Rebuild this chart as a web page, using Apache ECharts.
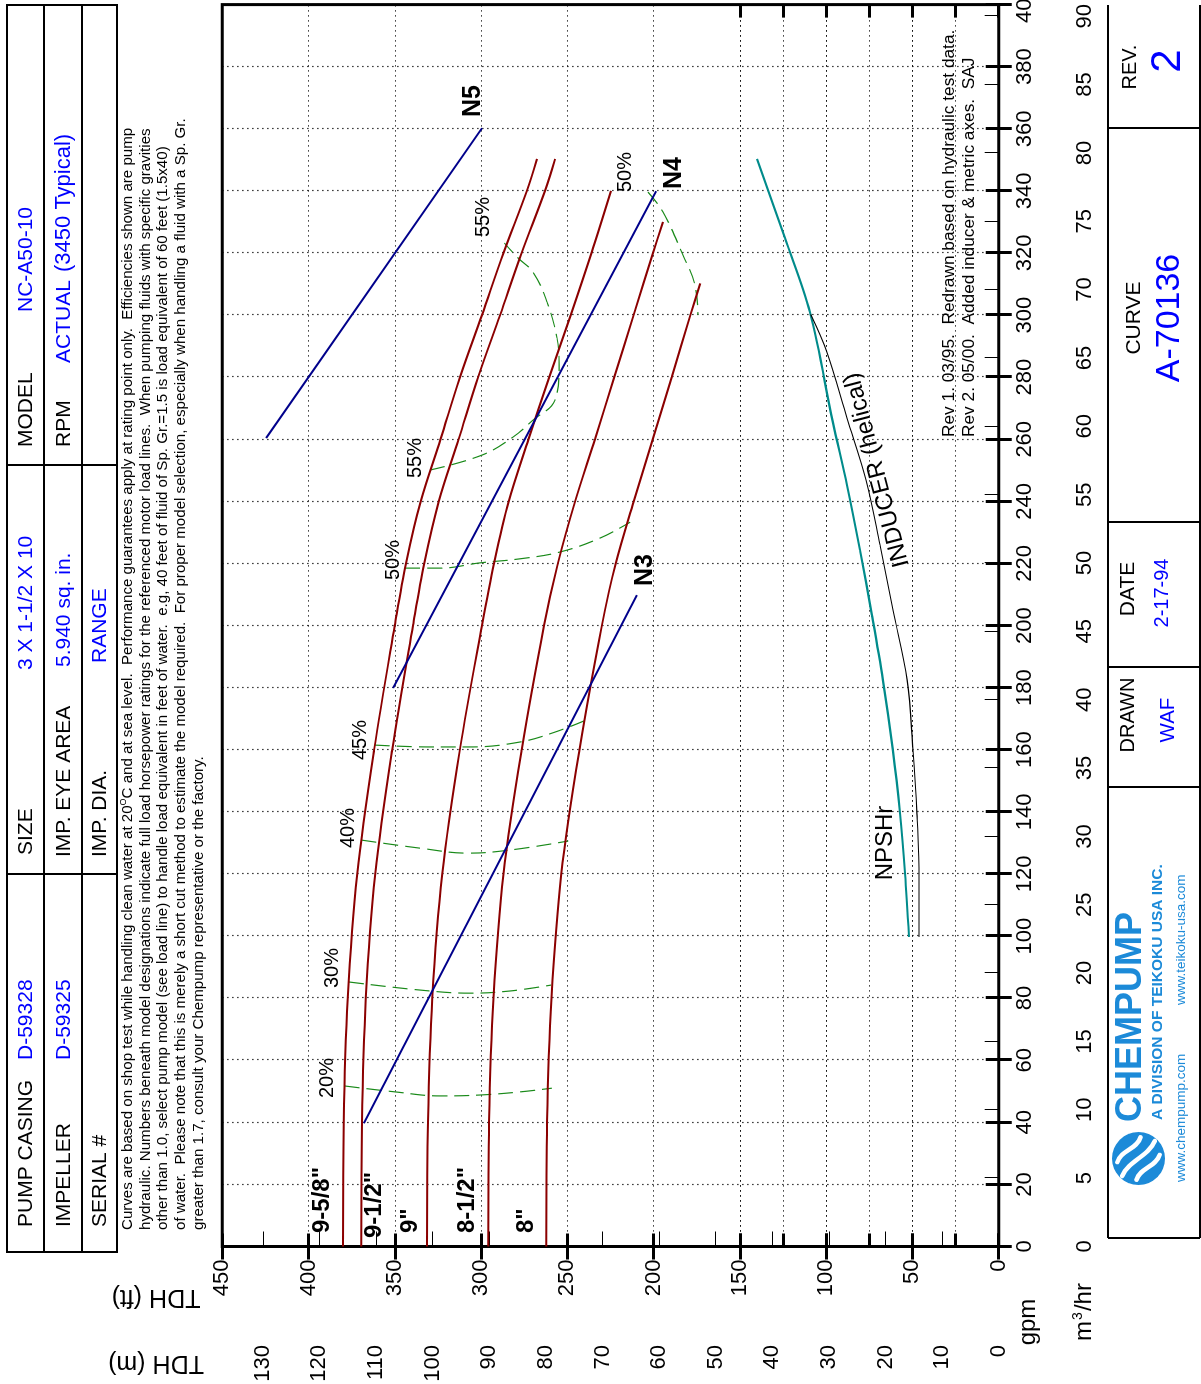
<!DOCTYPE html>
<html>
<head>
<meta charset="utf-8">
<title>NC-A50-10 Pump Curve</title>
<script src="https://cdn.jsdelivr.net/npm/echarts@6/dist/echarts.min.js"></script>
<style>
  html, body { margin: 0; padding: 0; background: #fff; overflow: hidden; }
  #page { position: absolute; left: 0; top: 0; width: 1201px; height: 1384px; overflow: hidden; background: #fff; }
  /* the sheet is laid out landscape and turned a quarter turn */
  #chart { position: absolute; left: 0; top: 0; width: 1384px; height: 1201px;
           transform-origin: 0 0; transform: translate(0, 1384px) rotate(-90deg); }
</style>
</head>
<body>
<div id="page"><div id="chart"></div></div>
<script>
// ---- head curves by impeller diameter: [gpm, TDH ft] ----
const imp9_5_8 = [[0,380],[40,379.6],[80,377.3],[120,371.8],[160,362],[200,350],[220,343.5],[240,335],[260,323.5],[280,312.2],[300,299.5],[320,287],[340,273.5],[350.3,267.6]];
const imp9_1_2 = [[0,369.5],[40,369.1],[80,366.8],[120,361.3],[160,351.5],[200,339.5],[220,333],[240,324.5],[260,313],[280,301.7],[300,289],[320,276.5],[340,263],[350.3,257.1]];
const imp9     = [[0,331.3],[40,330.8],[80,328.3],[120,322.5],[160,312.3],[200,299.5],[220,292.5],[240,284],[260,272.5],[280,260.5],[300,248],[320,236],[340,224.7]];
const imp8_1_2 = [[0,295.9],[40,295.4],[80,292.8],[120,287],[160,276.5],[200,263.5],[220,255.5],[240,245.5],[260,234],[280,222.8],[300,211.6],[320,200.4],[330,194.6]];
const imp8     = [[0,262.3],[40,261.8],[80,259.2],[120,253.5],[160,243],[200,230],[220,222],[240,211.5],[260,200.5],[280,189.5],[300,178.7],[310.2,173]];

// ---- motor load lines ----
const loadN3 = [[39.7,367.9],[209.8,209.7]];
const loadN4 = [[179.9,351],[339.9,198.5]];
const loadN5 = [[260.4,424.6],[360.2,299.5]];

// ---- efficiency contours ----
const eff20 = [[51.7,379],[49.8,349.8],[48.5,323.7],[48.8,300.5],[49.8,277.4],[51,259]];
const eff30 = [[85.2,376.6],[82.6,335.4],[81.6,306.4],[82.3,283.2],[84.2,259.5]];
const eff40 = [[130.9,369.3],[128.3,335.4],[126.7,307.6],[127.7,283.2],[130.6,249.5]];
const eff45 = [[161.5,361.6],[160.9,329.6],[160.9,306.4],[162.5,277.4],[165.7,257.1],[170.1,236.8]];
const eff50 = [[218.5,344],[218.5,323.8],[220.2,300.5],[221.5,277.4],[223.7,254.2],[228.2,231],[233.3,213.6]];
const eff55 = [[250.1,329.5],[254.9,299.5],[260.7,281.5],[266.2,269.9],[272.6,257.2],[283.9,254.8],[292.6,256],[304.2,261.8],[313.8,269.9],[318.4,278.6],[323.2,286.5]];
const eff50b = [[339.6,203.3],[333.2,194.6],[319.3,183],[309.8,176.1],[300.1,174.3]];

// ---- NPSH ----
const npshr = [[350.3,140.1],[324.8,123.9],[300.9,109.4],[265.5,96.1],[245.2,87.9],[224.3,80.4],[203.4,73.5],[182.5,67.1],[159.9,61.3],[139.6,57.2],[120.3,54.3],[99.7,52]];
const inducer = [[300.2,109],[288.2,99.7],[266.8,87.9],[246.9,76.9],[226,68.8],[205,61.3],[182.5,53.1],[159.9,49.7],[139.6,47.4],[120.3,46.2],[99.7,46.2]];

// ---- axis ranges / secondary-axis ticks ----
const gpmMax = 400, ftMax = 450;
const m3hrMax = gpmMax * 0.2271247;
const mMax = ftMax * 0.3048;
const m3hrTicks = [0,5,10,15,20,25,30,35,40,45,50,55,60,65,70,75,80,85,90];
const mTicks = [0,10,20,30,40,50,60,70,80,90,100,110,120,130];

const FONT = "'Liberation Sans', Arial, Helvetica, sans-serif";
const RED = '#8b0000', NAVY = '#00008b', GREEN = '#1a8a1a', TEAL = '#008b8b', BLUE = '#0000ff', LOGO = '#1c8ad8';

const G = { left: 137.5, top: 222.3, width: 1241.9, height: 776.4 };
const lowTop = G.top + G.height * (1 - 150 / ftMax);

const chart = echarts.init(document.getElementById('chart'), null, { renderer: 'canvas', width: 1384, height: 1201 });

const tickIn = (len, w) => ({ show: true, inside: true, length: len, lineStyle: { color: '#000', width: w } });
const dotted = { show: true, lineStyle: { color: '#000', width: 1.2, type: [1.2, 3.8] } };
const lbl = (margin) => ({ show: true, margin: margin, fontSize: 22, color: '#000', fontFamily: FONT });

function line(data, color, width, opts) {
  return Object.assign({
    type: 'line', data: data, xAxisIndex: 0, yAxisIndex: 0, showSymbol: false, symbol: 'none',
    silent: true, animation: false, smooth: false,
    lineStyle: { color: color, width: width }
  }, opts || {});
}
function effLine(data) {
  return line(data, GREEN, 1.2, { smooth: 0.4, lineStyle: { color: GREEN, width: 1.2, type: [15, 7] } });
}

// text helper for the landscape sheet
function txt(x, y, text, size, opts) {
  const o = opts || {};
  return {
    type: 'text', x: x, y: y, rotation: o.rotation || 0, silent: true, z: 10,
    style: {
      text: text, fill: o.color || '#000', fontSize: size, fontFamily: FONT,
      fontWeight: o.bold ? 'bold' : 'normal',
      align: o.align || 'left', verticalAlign: o.valign || 'middle',
      textAlign: o.align || 'left', textVerticalAlign: o.valign || 'middle',
      rich: o.rich
    }
  };
}
function hline(x1, x2, y, w) { return { type: 'line', silent: true, shape: { x1: x1, y1: y, x2: x2, y2: y }, style: { stroke: '#000', lineWidth: w } }; }
function vline(x, y1, y2, w) { return { type: 'line', silent: true, shape: { x1: x, y1: y1, x2: x, y2: y2 }, style: { stroke: '#000', lineWidth: w } }; }

// white wave strokes across the round company badge
function badgeWaves(cx, cy) {
  const u = [0.734, 0.679], p = [0.679, -0.734];
  const out = [];
  [[-13, 17], [0, 24], [13, 17]].forEach(([off, half]) => {
    const mx = cx + p[0] * off, my = cy + p[1] * off;
    const sx = mx - u[0] * half, sy = my - u[1] * half;
    const ex = mx + u[0] * half, ey = my + u[1] * half;
    const a = 6;
    out.push({ type: 'bezierCurve', silent: true, z: 11,
      shape: { x1: sx, y1: sy,
               cpx1: sx + u[0] * half * 0.66 + p[0] * a, cpy1: sy + u[1] * half * 0.66 + p[1] * a,
               cpx2: sx + u[0] * half * 1.34 - p[0] * a, cpy2: sy + u[1] * half * 1.34 - p[1] * a,
               x2: ex, y2: ey },
      style: { fill: 'none', stroke: '#fff', lineWidth: 4.5, lineCap: 'round' } });
  });
  return out;
}

const notes = [
  '{n|Curves are based on shop test while handling clean water at 20}{s|O}{n|C and at sea level.  Performance guarantees apply at rating point only.  Efficiencies shown are pump}',
  'hydraulic. Numbers beneath model designations indicate full load horsepower ratings for the referenced motor load lines.  When pumping fluids with specific gravities',
  'other than 1.0, select pump model (see load line) to handle load equivalent in feet of water.  e.g, 40 feet of fluid of Sp. Gr.=1.5 is load equivalent of 60 feet (1.5x40)',
  'of water.  Please note that this is merely a short cut method to estimate the model required.  For proper model selection, especially when handling a fluid with a Sp. Gr.',
  'greater than 1.7, consult your Chempump representative or the factory.'
];
const NOTE_SIZE = 15.1;
const noteRich = { n: { fontSize: NOTE_SIZE, fontFamily: FONT, fill: '#000', color: '#000' }, s: { fontSize: 9, fontFamily: FONT, fill: '#000', color: '#000', verticalAlign: 'top', padding: [0, 0, 8, 0] } };

const graphics = [];
// header table
graphics.push({ type: 'rect', silent: true, shape: { x: 132, y: 7, width: 1247, height: 110 }, style: { fill: 'none', stroke: '#000', lineWidth: 2 } });
graphics.push(hline(132, 1379, 44, 2), hline(132, 1379, 82, 2), vline(510, 7, 117, 2), vline(919, 7, 117, 2));
graphics.push(
  txt(157, 26, 'PUMP CASING', 21), txt(324, 26, 'D-59328', 21, { color: BLUE }),
  txt(529, 26, 'SIZE', 21), txt(714, 26, '3 X 1-1/2 X 10', 21, { color: BLUE }),
  txt(937, 26, 'MODEL', 21), txt(1072, 26, 'NC-A50-10', 21, { color: BLUE }),
  txt(157, 64, 'IMPELLER', 21), txt(324, 64, 'D-59325', 21, { color: BLUE }),
  txt(527, 64, 'IMP. EYE AREA', 21), txt(717, 64, '5.940 sq. in.', 21, { color: BLUE }),
  txt(937, 64, 'RPM', 21), txt(1021, 64, 'ACTUAL', 21, { color: BLUE }), txt(1112, 64, '(3450 Typical)', 22, { color: BLUE }),
  txt(157, 100, 'SERIAL #', 21),
  txt(527, 100, 'IMP. DIA.', 21), txt(721, 100, 'RANGE', 21, { color: BLUE })
);
// notes
const noteY = [128, 145.5, 163, 181, 199];
notes.forEach((t, i) => {
  if (i === 0) graphics.push(txt(154, noteY[i], t, NOTE_SIZE, { rich: noteRich }));
  else graphics.push(txt(154, noteY[i], t, NOTE_SIZE));
});
// axis titles
graphics.push(
  txt(87.5, 156, 'TDH (ft)', 25, { align: 'center', rotation: Math.PI / 2 }),
  txt(21.5, 156, 'TDH (m)', 25, { align: 'center', rotation: Math.PI / 2 }),
  txt(62, 1028, 'gpm', 24, { align: 'center' }),
  txt(72, 1084, '{a|m}{b|3}{a|/hr}', 24, { align: 'center', rich: {
    a: { fontSize: 24, fontFamily: FONT, fill: '#000', color: '#000' },
    b: { fontSize: 14, fontFamily: FONT, fill: '#000', color: '#000', verticalAlign: 'top', padding: [0, 1, 12, 1] } } })
);
// plot annotations
graphics.push(
  txt(151, 322, '9-5/8"', 24, { bold: true }), txt(146, 374, '9-1/2"', 24, { bold: true }),
  txt(151, 410, '9"', 24, { bold: true }), txt(151, 467, '8-1/2"', 24, { bold: true }),
  txt(151, 526, '8"', 24, { bold: true }),
  txt(306, 327, '20%', 20, { align: 'center' }), txt(416, 332, '30%', 20, { align: 'center' }),
  txt(556, 348, '40%', 20, { align: 'center' }), txt(644, 360, '45%', 20, { align: 'center' }),
  txt(824, 393, '50%', 20, { align: 'center' }), txt(926, 415, '55%', 20, { align: 'center' }),
  txt(1167, 483, '55%', 20, { align: 'center' }), txt(1212, 625, '50%', 20, { align: 'center' }),
  txt(1283, 473, 'N5', 25, { bold: true, align: 'center' }), txt(1211, 674, 'N4', 25, { bold: true, align: 'center' }),
  txt(814, 645, 'N3', 25, { bold: true, align: 'center' }),
  txt(541, 885, 'NPSHr', 24, { align: 'center' }),
  txt(914, 877, 'INDUCER (helical)', 24, { align: 'center', rotation: 0.256 }),
  txt(947, 949.5, 'Rev 1. 03/95.  Redrawn based on hydraulic test data.', 17.3),
  txt(947, 969, 'Rev 2. 05/00.  Added inducer & metric axes.  SAJ', 17.3)
);
// title block
graphics.push(
  hline(146, 1379, 1108, 2), hline(146, 1379, 1200, 2), vline(146, 1108, 1200, 2),
  vline(597, 1108, 1200, 2), vline(717, 1108, 1200, 2), vline(862, 1108, 1200, 2), vline(1256, 1108, 1200, 2),
  txt(1317, 1130, 'REV.', 20, { align: 'center' }), txt(1323, 1168, '2', 42, { align: 'center', color: BLUE }),
  txt(1066, 1134, 'CURVE', 21, { align: 'center' }), txt(1066, 1170, 'A-70136', 34, { align: 'center', color: BLUE }),
  txt(795, 1128, 'DATE', 21, { align: 'center' }), txt(791, 1162, '2-17-94', 20, { align: 'center', color: BLUE }),
  txt(669, 1128, 'DRAWN', 20, { align: 'center' }), txt(664, 1168, 'WAF', 20.5, { align: 'center', color: BLUE })
);
// company mark
graphics.push({ type: 'circle', silent: true, z: 10, shape: { cx: 225.5, cy: 1138.5, r: 26.5 }, style: { fill: LOGO } });
badgeWaves(225.5, 1138.5).forEach(w => graphics.push(w));
graphics.push(
  txt(262, 1131, 'CHEMPUMP', 36, { bold: true, color: LOGO }),
  txt(264, 1158, 'A DIVISION OF TEIKOKU USA INC.', 15.5, { bold: true, color: LOGO }),
  txt(202, 1181, 'www.chempump.com', 13.5, { color: LOGO }),
  txt(379, 1181, 'www.teikoku-usa.com', 13.5, { color: LOGO })
);

const option = {
  animation: false,
  backgroundColor: '#fff',
  grid: [
    { left: G.left, top: G.top, width: G.width, height: G.height, show: true, borderColor: '#000', borderWidth: 3,
      backgroundColor: 'transparent', containLabel: false, outerBoundsMode: 'none' },
    { left: G.left, top: lowTop, width: G.width, height: G.top + G.height - lowTop, show: false,
      containLabel: false, outerBoundsMode: 'none' }
  ],
  xAxis: [
    { gridIndex: 0, type: 'value', position: 'bottom', min: 0, max: gpmMax, interval: 20,
      axisLine: { show: false }, axisTick: tickIn(13, 3), axisLabel: lbl(15), splitLine: dotted },
    { gridIndex: 0, type: 'value', position: 'top', min: 0, max: gpmMax, interval: 20,
      axisLine: { show: false }, axisTick: tickIn(13, 3), axisLabel: { show: false }, splitLine: { show: false } },
    { gridIndex: 0, type: 'value', position: 'bottom', offset: 63.3, min: 0, max: m3hrMax,
      axisLine: { show: true, lineStyle: { color: '#000', width: 1 } },
      axisTick: { show: true, inside: true, length: 14, lineStyle: { color: '#000', width: 1 }, customValues: m3hrTicks },
      axisLabel: Object.assign(lbl(12), { customValues: m3hrTicks }), splitLine: { show: false } },
    { gridIndex: 1, type: 'value', show: false, min: 0, max: gpmMax }
  ],
  yAxis: [
    { gridIndex: 0, type: 'value', position: 'left', min: 0, max: ftMax, interval: 50,
      axisLine: { show: false }, axisTick: tickIn(13, 3), axisLabel: lbl(13), splitLine: dotted },
    { gridIndex: 0, type: 'value', position: 'right', min: 0, max: ftMax, interval: 50,
      axisLine: { show: false }, axisTick: tickIn(13, 3), axisLabel: { show: false }, splitLine: { show: false } },
    { gridIndex: 0, type: 'value', position: 'left', offset: 85.5, min: 0, max: mMax,
      axisLine: { show: true, lineStyle: { color: '#000', width: 1 } },
      axisTick: { show: true, inside: true, length: 15, lineStyle: { color: '#000', width: 1 }, customValues: mTicks },
      axisLabel: Object.assign(lbl(13), { customValues: mTicks }), splitLine: { show: false } },
    { gridIndex: 1, type: 'value', position: 'left', min: 0, max: 150, interval: 25,
      axisLine: { show: false }, axisTick: tickIn(13, 3), axisLabel: { show: false }, splitLine: dotted },
    { gridIndex: 1, type: 'value', position: 'right', min: 0, max: 150, interval: 25,
      axisLine: { show: false }, axisTick: tickIn(13, 3), axisLabel: { show: false }, splitLine: { show: false } }
  ],
  series: [
    effLine(eff20), effLine(eff30), effLine(eff40), effLine(eff45), effLine(eff50), effLine(eff55), effLine(eff50b),
    line(imp9_5_8, RED, 2, { smooth: 0.35 }), line(imp9_1_2, RED, 2, { smooth: 0.35 }), line(imp9, RED, 2, { smooth: 0.35 }),
    line(imp8_1_2, RED, 2, { smooth: 0.35 }), line(imp8, RED, 2, { smooth: 0.35 }),
    line(loadN3, NAVY, 2), line(loadN4, NAVY, 2), line(loadN5, NAVY, 2),
    line(npshr, TEAL, 2.2, { smooth: 0.35 }), line(inducer, '#000', 1.1, { smooth: 0.35 })
  ],
  graphic: { elements: graphics }
};
chart.setOption(option);
</script>
</body>
</html>
